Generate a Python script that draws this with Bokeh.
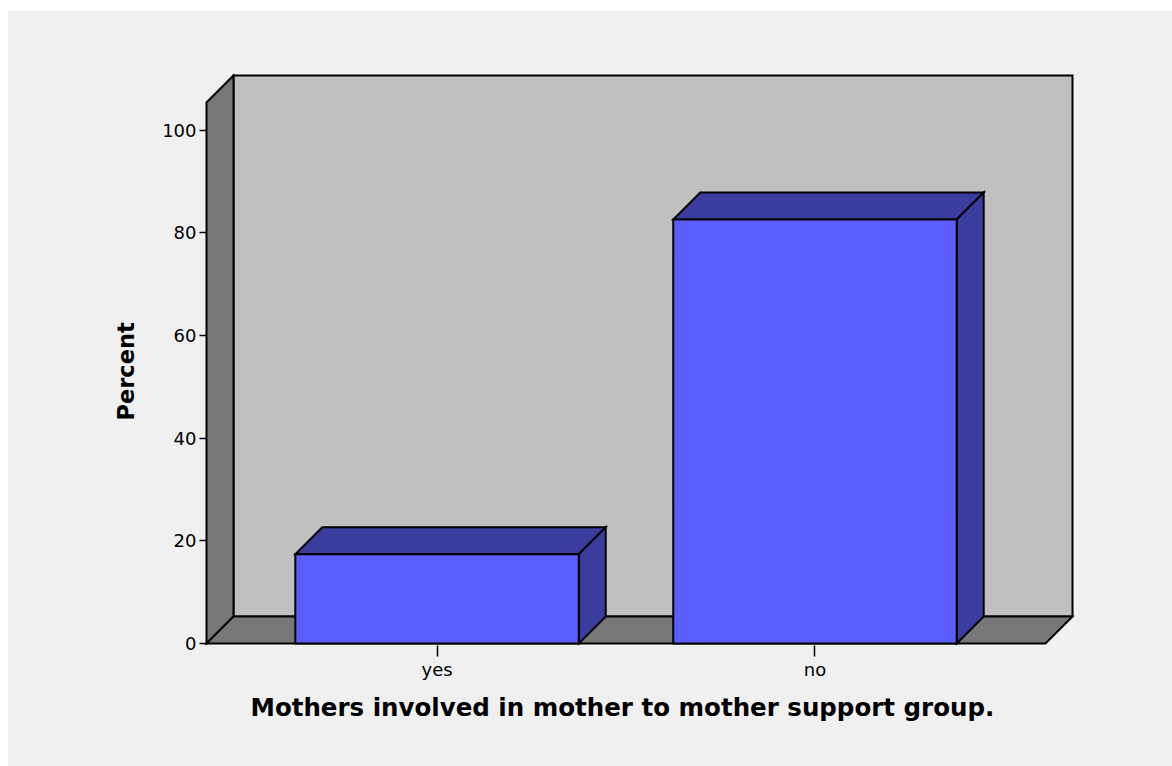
from bokeh.embed import file_html
from bokeh.models import FixedTicker, Range1d, Title
from bokeh.plotting import figure
from bokeh.resources import INLINE

# ---- data -------------------------------------------------------------
categories = ["yes", "no"]
percent = [17.4, 82.6]
y_ticks = [0, 20, 40, 60, 80, 100]
x_title = "Mothers involved in mother to mother support group."
y_title = "Percent"

# ---- 3-D box geometry (data units) ------------------------------------
PX_PER_X = 378.0          # pixels per category step
PX_PER_Y = 5.133          # pixels per percent
DEPTH_PX = 27.0           # oblique depth of walls and bars
DX = DEPTH_PX / PX_PER_X
DY = DEPTH_PX / PX_PER_Y
BAR_W = 0.75
X_LO = -0.61              # front left edge of the floor
X_HI = 1.61               # front right edge of the floor
Y_TOP = 105.4             # front top of the left wall
PAD_X = 2.0 / PX_PER_X
PAD_Y = 2.0 / PX_PER_Y

WALL_DARK = "#777777"
WALL_BACK = "#c0c0c0"
BAR_FRONT = "#5a5eff"
BAR_SHADE = "#3a3c9e"
PANEL = "#f0f0f0"
FONT = "DejaVu Sans"

p = figure(
    width=1165, height=756,
    x_range=Range1d(X_LO - PAD_X, X_HI + DX + PAD_X),
    y_range=Range1d(-PAD_Y, Y_TOP + DY + PAD_Y),
    output_backend="svg", toolbar_location=None,
    min_border_left=197, min_border_right=98,
    min_border_top=63, min_border_bottom=121,
)
p.margin = (10, 0, 0, 7)
p.border_fill_color = PANEL
p.background_fill_color = PANEL
p.outline_line_color = None
p.xgrid.visible = False
p.ygrid.visible = False

outline = dict(line_color="black", line_width=2, line_join="miter")

# back wall
p.patch([X_LO + DX, X_HI + DX, X_HI + DX, X_LO + DX],
        [DY, DY, Y_TOP + DY, Y_TOP + DY], fill_color=WALL_BACK, **outline)
# left wall
p.patch([X_LO, X_LO, X_LO + DX, X_LO + DX],
        [0, Y_TOP, Y_TOP + DY, DY], fill_color=WALL_DARK, **outline)
# floor
p.patch([X_LO, X_LO + DX, X_HI + DX, X_HI],
        [0, DY, DY, 0], fill_color=WALL_DARK, **outline)

# bars: top face, right side face, front face
for i, v in enumerate(percent):
    l, r = i - BAR_W / 2, i + BAR_W / 2
    p.patch([l + DX, r + DX, r, l], [v + DY, v + DY, v, v],
            fill_color=BAR_SHADE, **outline)
    p.patch([r, r + DX, r + DX, r], [0, DY, v + DY, v],
            fill_color=BAR_SHADE, **outline)
    p.patch([l, r, r, l], [0, 0, v, v], fill_color=BAR_FRONT, **outline)

# y axis
ya = p.yaxis[0]
ya.ticker = FixedTicker(ticks=y_ticks)
ya.axis_line_color = None
ya.major_tick_line_color = "black"
ya.major_tick_line_width = 1.5
ya.major_tick_out = 5
ya.major_tick_in = 2
ya.minor_tick_line_color = None
ya.major_label_standoff = 3
ya.major_label_text_font = FONT
ya.major_label_text_font_size = "18px"
ya.major_label_text_color = "black"

# x axis
xa = p.xaxis[0]
xa.ticker = FixedTicker(ticks=list(range(len(categories))))
xa.major_label_overrides = {i: c for i, c in enumerate(categories)}
xa.axis_line_color = None
xa.major_tick_line_color = "black"
xa.major_tick_line_width = 1.5
xa.major_tick_out = 11
xa.major_tick_in = 0
xa.minor_tick_line_color = None
xa.major_label_standoff = 2
xa.major_label_text_font = FONT
xa.major_label_text_font_size = "18px"
xa.major_label_text_color = "black"

# axis titles, placed so they centre on the front plane of the box
p.add_layout(Title(
    text=x_title, align="left", offset=46, standoff=17,
    text_font=FONT, text_font_style="bold", text_font_size="24.5px",
    text_color="black"), "below")
p.add_layout(Title(
    text=y_title, align="left", offset=225, standoff=42,
    text_font=FONT, text_font_style="bold", text_font_size="22.5px",
    text_color="black"), "left")

open("out.html", "w").write(file_html(p, INLINE))
